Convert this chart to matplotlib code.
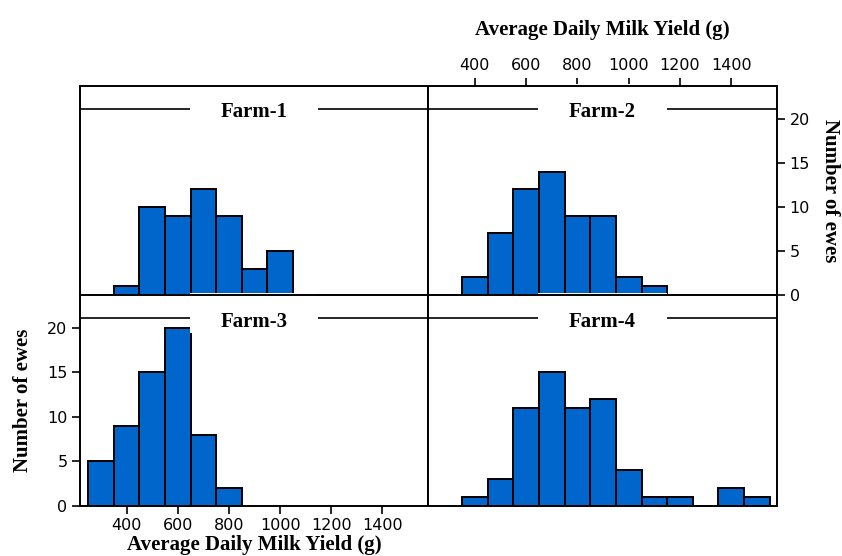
import numpy as np
import matplotlib.pyplot as plt
from matplotlib.patches import Rectangle

# bins of 100 g, left edges
farm1_left = [350, 450, 550, 650, 750, 850, 950]
farm1_count = [1, 10, 9, 12, 9, 3, 5]
farm2_left = [350, 450, 550, 650, 750, 850, 950, 1050]
farm2_count = [2, 7, 12, 14, 9, 9, 2, 1]
farm3_left = [250, 350, 450, 550, 650, 750]
farm3_count = [5, 9, 15, 20, 8, 2]
farm4_left = [350, 450, 550, 650, 750, 850, 950, 1050, 1150, 1250, 1350, 1450]
farm4_count = [1, 3, 11, 15, 11, 12, 4, 1, 1, 0, 2, 1]
titles = ["Farm-1", "Farm-2", "Farm-3", "Farm-4"]
xticks = [400, 600, 800, 1000, 1200, 1400]
yticks = [0, 5, 10, 15, 20]

W, H = 842, 556
fig = plt.figure(figsize=(W / 100, H / 100), dpi=100)

serif = "Liberation Serif"
bar_col = "#0066cc"
xlim = (218, 1578)
ylim = (0, 23.7)
strip_y = 21.1


def px_axes(x0, y0, x1, y1):
    return fig.add_axes([x0 / W, 1 - y1 / H, (x1 - x0) / W, (y1 - y0) / H])


panels = [
    (px_axes(80, 86, 428, 295), farm1_left, farm1_count),
    (px_axes(428, 86, 777, 295), farm2_left, farm2_count),
    (px_axes(80, 295, 428, 506), farm3_left, farm3_count),
    (px_axes(428, 295, 777, 506), farm4_left, farm4_count),
]

for i, (ax, left, cnt) in enumerate(panels):
    ax.bar(left, cnt, width=100, align="edge", color=bar_col,
           edgecolor="black", linewidth=1.4, zorder=2)
    ax.set_xlim(*xlim)
    ax.set_ylim(*ylim)
    ax.axhline(strip_y, color="black", lw=1.2, zorder=3)
    # white box behind the strip label
    ax.add_patch(Rectangle((0.315, 0.82), 0.37, 0.19, transform=ax.transAxes,
                           facecolor="white", edgecolor="none", zorder=4,
                           clip_on=False))
    ax.text(np.mean(xlim), 20.7, titles[i], ha="center", va="center",
            fontsize=15, fontweight="bold", family=serif, zorder=5)
    for s in ax.spines.values():
        s.set_linewidth(1.4)
        s.set_zorder(6)
    ax.set_xticks([])
    ax.set_yticks([])

# Farm-3: left and bottom axes
ax3 = panels[2][0]
ax3.set_xticks(xticks)
ax3.set_yticks(yticks)
ax3.tick_params(axis="both", length=6, width=1.2, labelsize=11.5, pad=3)
ax3.set_ylabel("Number of ewes", family=serif, fontsize=15, fontweight="bold",
               labelpad=10)
ax3.set_xlabel("Average Daily Milk Yield (g)", family=serif, fontsize=15,
               fontweight="bold", labelpad=1)

# Farm-2: top and right axes
ax2 = panels[1][0]
ax2.set_xticks(xticks)
ax2.set_yticks(yticks)
ax2.xaxis.tick_top()
ax2.yaxis.tick_right()
ax2.xaxis.set_label_position("top")
ax2.yaxis.set_label_position("right")
ax2.tick_params(axis="both", length=6, width=1.2, labelsize=11.5, pad=3)
ax2.set_xlabel("Average Daily Milk Yield (g)", family=serif, fontsize=15,
               fontweight="bold", labelpad=17)
ax2.set_ylabel("Number of ewes", family=serif, fontsize=15, fontweight="bold",
               rotation=-90, labelpad=22)

fig.savefig("out.png", dpi=100)
